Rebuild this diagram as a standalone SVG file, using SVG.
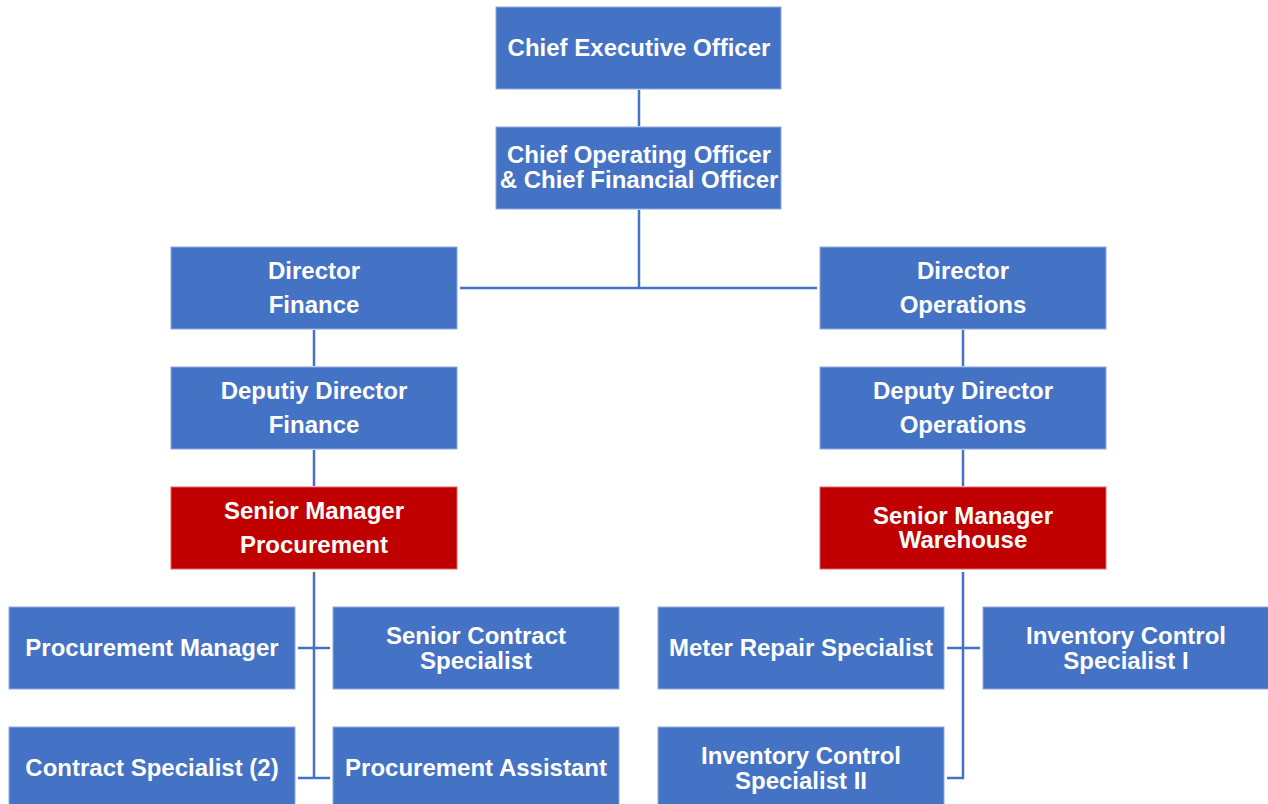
<svg xmlns="http://www.w3.org/2000/svg" width="1268" height="804" viewBox="0 0 1268 804">
  <style>
    .box { fill: #4472C4; stroke: #8FAADC; stroke-width: 1; }
    .red { fill: #C00000; stroke: #E06666; stroke-width: 1; }
    .lbl { font-family: "Liberation Sans", Arial, sans-serif; font-weight: bold; font-size: 24px; fill: #FFFFFF; text-anchor: middle; }
    .link { stroke: #4472C4; stroke-width: 2.5; fill: none; }
  </style>
  <rect width="1268" height="804" fill="#FFFFFF"/>

  <g id="connectors">
    <line class="link" x1="639" y1="90" x2="639" y2="126"/>
    <line class="link" x1="639" y1="210" x2="639" y2="288"/>
    <line class="link" x1="460" y1="288" x2="817" y2="288"/>
    <line class="link" x1="314" y1="330" x2="314" y2="366"/>
    <line class="link" x1="314" y1="450" x2="314" y2="486"/>
    <line class="link" x1="963" y1="330" x2="963" y2="366"/>
    <line class="link" x1="963" y1="450" x2="963" y2="486"/>
    <line class="link" x1="314" y1="572" x2="314" y2="778"/>
    <line class="link" x1="298" y1="648" x2="330" y2="648"/>
    <line class="link" x1="298" y1="778" x2="330" y2="778"/>
    <polyline class="link" points="963,572 963,778 947,778"/>
    <line class="link" x1="947" y1="648" x2="980" y2="648"/>
  </g>

  <g id="ceo">
    <rect class="box" x="496" y="7" width="285" height="82"/>
    <text class="lbl" x="639" y="56">Chief Executive Officer</text>
  </g>
  <g id="coo-cfo">
    <rect class="box" x="496" y="127" width="285" height="82"/>
    <text class="lbl" x="639" y="163">Chief Operating Officer</text>
    <text class="lbl" x="639" y="188">&amp; Chief Financial Officer</text>
  </g>

  <g id="director-finance">
    <rect class="box" x="171" y="247" width="286" height="82"/>
    <text class="lbl" x="314" y="279">Director</text>
    <text class="lbl" x="314" y="313">Finance</text>
  </g>
  <g id="director-operations">
    <rect class="box" x="820" y="247" width="286" height="82"/>
    <text class="lbl" x="963" y="279">Director</text>
    <text class="lbl" x="963" y="313">Operations</text>
  </g>

  <g id="deputy-director-finance">
    <rect class="box" x="171" y="367" width="286" height="82"/>
    <text class="lbl" x="314" y="399">Deputiy Director</text>
    <text class="lbl" x="314" y="433">Finance</text>
  </g>
  <g id="deputy-director-operations">
    <rect class="box" x="820" y="367" width="286" height="82"/>
    <text class="lbl" x="963" y="399">Deputy Director</text>
    <text class="lbl" x="963" y="433">Operations</text>
  </g>

  <g id="senior-manager-procurement">
    <rect class="red" x="171" y="487" width="286" height="82"/>
    <text class="lbl" x="314" y="519">Senior Manager</text>
    <text class="lbl" x="314" y="553">Procurement</text>
  </g>
  <g id="senior-manager-warehouse">
    <rect class="red" x="820" y="487" width="286" height="82"/>
    <text class="lbl" x="963" y="524">Senior Manager</text>
    <text class="lbl" x="963" y="548">Warehouse</text>
  </g>

  <g id="procurement-manager">
    <rect class="box" x="9" y="607" width="286" height="82"/>
    <text class="lbl" x="152" y="656">Procurement Manager</text>
  </g>
  <g id="senior-contract-specialist">
    <rect class="box" x="333" y="607" width="286" height="82"/>
    <text class="lbl" x="476" y="644">Senior Contract</text>
    <text class="lbl" x="476" y="669">Specialist</text>
  </g>
  <g id="contract-specialist">
    <rect class="box" x="9" y="727" width="286" height="82"/>
    <text class="lbl" x="152" y="776">Contract Specialist (2)</text>
  </g>
  <g id="procurement-assistant">
    <rect class="box" x="333" y="727" width="286" height="82"/>
    <text class="lbl" x="476" y="776">Procurement Assistant</text>
  </g>

  <g id="meter-repair-specialist">
    <rect class="box" x="658" y="607" width="286" height="82"/>
    <text class="lbl" x="801" y="656">Meter Repair Specialist</text>
  </g>
  <g id="inventory-control-specialist-1">
    <rect class="box" x="983" y="607" width="286" height="82"/>
    <text class="lbl" x="1126" y="644">Inventory Control</text>
    <text class="lbl" x="1126" y="669">Specialist I</text>
  </g>
  <g id="inventory-control-specialist-2">
    <rect class="box" x="658" y="727" width="286" height="82"/>
    <text class="lbl" x="801" y="764">Inventory Control</text>
    <text class="lbl" x="801" y="789">Specialist II</text>
  </g>
</svg>
